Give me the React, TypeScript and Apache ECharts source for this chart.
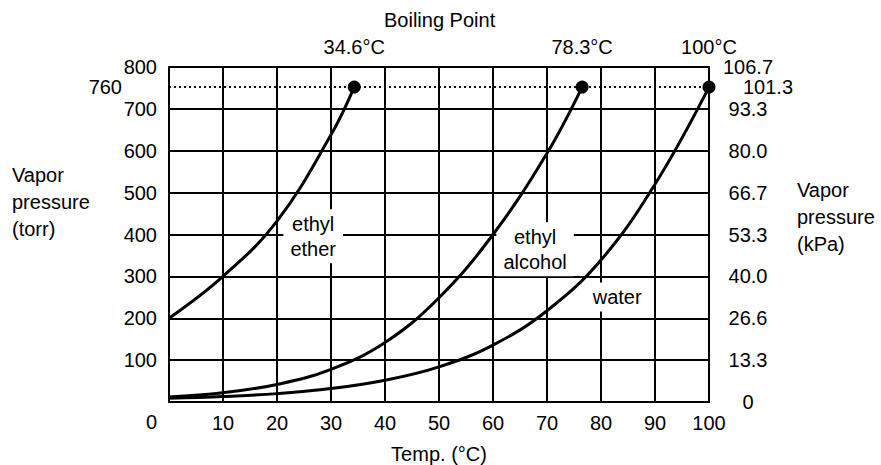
import React, { useEffect, useRef } from "react";
import * as echarts from "echarts";

const xTicks = [0, 10, 20, 30, 40, 50, 60, 70, 80, 90, 100];
const torrTicks = [0, 100, 200, 300, 400, 500, 600, 700, 800];
const kpaLabels = ["0", "13.3", "26.6", "40.0", "53.3", "66.7", "80.0", "93.3", "106.7"];

const etherT = [0, 10, 20, 30, 34.3];
const etherP = [200, 300, 432, 638, 752];
const alcoholT = [0, 10, 20, 30, 40, 50, 60, 70, 76.5];
const alcoholP = [12, 22, 42, 78, 142, 249, 400, 594, 752];
const waterT = [0, 10, 20, 30, 40, 50, 60, 70, 80, 90, 100];
const waterP = [9, 13, 20, 32, 52, 84, 136, 218, 339, 520, 752];

const bpTemps = [34.3, 76.5, 100];
const bpLabels = ["34.6°C", "78.3°C", "100°C"];
const bpLevel = 752;
const bpLeftLabel = "760";
const bpRightLabel = "101.3";

const curveLabels = [
  { name: "ethyl\nether", x: 26.7, y: 396 },
  { name: "ethyl\nalcohol", x: 67.8, y: 365 },
  { name: "water", x: 83, y: 251 },
];

const FONT = "'Liberation Sans', Arial, Helvetica, sans-serif";
const FS = 20;

export default function App() {
  const ref = useRef<HTMLDivElement>(null);
  useEffect(() => {
    document.body.style.margin = "0";
    const chart = echarts.init(ref.current!, null, { renderer: "svg" });
    const pairs = (t: number[], p: number[]) => t.map((v, i) => [v, p[i]]);
    const lineSeries = (name: string, t: number[], p: number[]) => ({
      name,
      type: "line",
      data: pairs(t, p),
      smooth: 0.4,
      symbol: "none",
      lineStyle: { color: "#000", width: 3 },
      z: 5,
    });
    const txt = { fontSize: FS, color: "#000", fontFamily: FONT, textBorderWidth: 0 };
    chart.setOption({
      animation: false,
      backgroundColor: "#fff",
      textStyle: { fontFamily: FONT, color: "#000" },
      grid: { left: 169, right: 172, top: 67, bottom: 63, outerBoundsMode: "none", containLabel: false },
      xAxis: {
        type: "value",
        min: 0,
        max: 100,
        interval: 10,
        name: "Temp. (°C)",
        nameLocation: "middle",
        nameGap: 42,
        nameTextStyle: { ...txt },
        axisLine: { show: true, lineStyle: { color: "#000", width: 2 } },
        axisTick: { show: false },
        splitLine: { show: true, lineStyle: { color: "#000", width: 2 } },
        axisLabel: {
          ...txt,
          margin: 11,
          formatter: (v: number) => (v === 0 ? "" : String(v)),
        },
      },
      yAxis: [
        {
          type: "value",
          min: 0,
          max: 800,
          interval: 100,
          axisLine: { show: true, lineStyle: { color: "#000", width: 2 } },
          axisTick: { show: false },
          splitLine: { show: true, lineStyle: { color: "#000", width: 2 } },
          axisLabel: {
            ...txt,
            margin: 12,
            formatter: (v: number) => (v === 0 ? "" : String(v)),
          },
        },
        {
          type: "value",
          position: "right",
          min: 0,
          max: 800,
          interval: 100,
          axisLine: { show: true, lineStyle: { color: "#000", width: 2 } },
          axisTick: { show: false },
          splitLine: { show: false },
          axisLabel: {
            ...txt,
            margin: 39,
            align: "center",
            formatter: (v: number) => kpaLabels[torrTicks.indexOf(v)] ?? "",
          },
        },
      ],
      series: [
        lineSeries("ethyl ether", etherT, etherP),
        lineSeries("ethyl alcohol", alcoholT, alcoholP),
        lineSeries("water", waterT, waterP),
        {
          name: "boiling point",
          type: "scatter",
          data: bpTemps.map((t, i) => ({ value: [t, bpLevel], name: bpLabels[i] })),
          symbol: "circle",
          symbolSize: 13,
          itemStyle: { color: "#000", opacity: 1 },
          z: 6,
          label: {
            show: true,
            position: "top",
            distance: 24,
            formatter: (p: any) => p.name,
            ...txt,
          },
          emphasis: { disabled: true },
          markLine: {
            silent: true,
            symbol: "none",
            lineStyle: { color: "#000", type: [2, 3], width: 1.5, opacity: 1 },
            data: [
              {
                yAxis: bpLevel,
                label: { show: true, position: "start", distance: 47, formatter: bpLeftLabel, ...txt },
              },
              {
                yAxis: bpLevel,
                label: { show: true, position: "end", distance: 34, formatter: bpRightLabel, ...txt },
              },
            ],
          },
        },
        {
          name: "labels",
          type: "scatter",
          data: curveLabels.map((c) => ({ value: [c.x, c.y], name: c.name })),
          symbolSize: 0,
          itemStyle: { color: "#fff", opacity: 1 },
          z: 4,
          emphasis: { disabled: true },
          label: {
            show: true,
            position: "inside",
            formatter: (p: any) => p.name,
            ...txt,
            opacity: 1,
            lineHeight: 25,
            backgroundColor: "#ffffff",
            padding: [2, 7, 2, 7],
          },
        },
      ],
      graphic: [
        {
          type: "text",
          left: 384,
          top: 10,
          style: { text: "Boiling Point", fontSize: FS, fill: "#000", fontFamily: FONT },
        },
        {
          type: "text",
          left: 12,
          top: 161,
          style: { text: "Vapor\npressure\n(torr)", fontSize: FS, lineHeight: 27, fill: "#000", fontFamily: FONT },
        },
        {
          type: "text",
          left: 797,
          top: 176,
          style: { text: "Vapor\npressure\n(kPa)", fontSize: FS, lineHeight: 27, fill: "#000", fontFamily: FONT },
        },
        {
          type: "text",
          left: 146,
          top: 412,
          style: { text: "0", fontSize: FS, fill: "#000", fontFamily: FONT },
        },
      ],
    });
    return () => chart.dispose();
  }, []);
  return <div ref={ref} style={{ width: 881, height: 465 }} />;
}
